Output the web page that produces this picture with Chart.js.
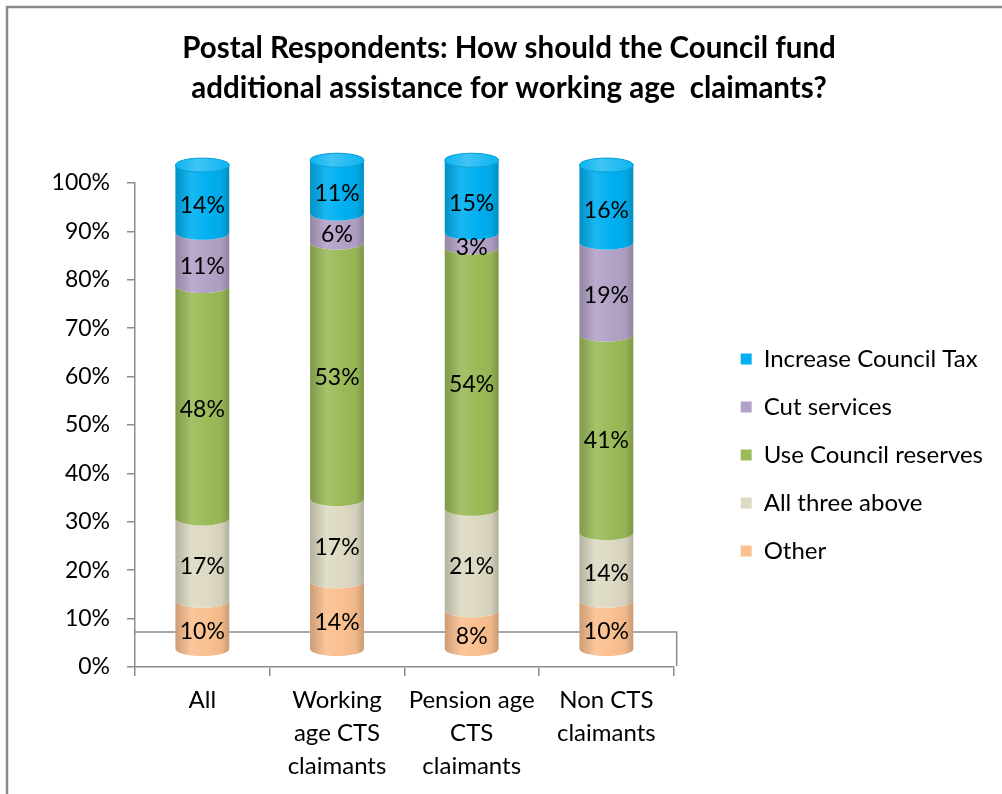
<!DOCTYPE html>
<html>
<head>
<meta charset="utf-8">
<script src="https://cdn.jsdelivr.net/npm/chart.js@4.4.1/dist/chart.umd.min.js"></script>
<style>
  html, body { margin: 0; padding: 0; background: #fff; }
  #wrap { width: 1002px; height: 794px; }
</style>
</head>
<body>
<div id="wrap"><canvas id="chart" width="1002" height="794"></canvas></div>
<script>
// ---- data ----
const categories = ['All', ['Working', 'age CTS', 'claimants'], ['Pension age', 'CTS', 'claimants'], ['Non CTS', 'claimants']];
const otherPct       = [10, 14, 8, 10];
const allThreePct    = [17, 17, 21, 14];
const reservesPct    = [48, 53, 54, 41];
const cutServicesPct = [11, 6, 3, 19];
const councilTaxPct  = [14, 11, 15, 16];
const seriesNames  = ['Other', 'All three above', 'Use Council reserves', 'Cut services', 'Increase Council Tax'];
const seriesValues = [otherPct, allThreePct, reservesPct, cutServicesPct, councilTaxPct];
const seriesColors = ['#FAC090', '#DDD9C3', '#9BBB59', '#B3A2C7', '#00B0F0'];
const titleLines = ['Postal Respondents: How should the Council fund', 'additional assistance for working age  claimants?'];

// ---- look ----
const FONT = 'Lato, "Open Sans", "DejaVu Sans", sans-serif';
const AXIS_GREY = '#8c8c8c';
const CAP_RY = 7;          // half-height of the elliptical cylinder ends
const FLOOR_DEPTH = 35;    // back edge of the 3-D floor, above the category axis
const LEGEND_SIZE = 24;
const LEGEND_PAD = 24;
const LEGEND_BOX = 11;
const LEGEND_SWATCH_X = 741;

// room for the legend so its swatches start at a fixed column
const meas = document.createElement('canvas').getContext('2d');
meas.font = LEGEND_SIZE + 'px ' + FONT;
const widestName = Math.max(...seriesNames.map(s => meas.measureText(s).width));
const legendWidth = LEGEND_PAD + LEGEND_BOX + LEGEND_SIZE / 2 + widestName + 10;
const padRight = Math.round(1002 - (LEGEND_SWATCH_X - LEGEND_PAD) - legendWidth);
const padLeft = 16 + padRight;

function shade(hex, f) {
  const n = parseInt(hex.slice(1), 16);
  const ch = [(n >> 16) & 255, (n >> 8) & 255, n & 255];
  const m = c => f >= 0 ? Math.round(c + (255 - c) * f) : Math.round(c * (1 + f));
  return 'rgb(' + ch.map(m).join(',') + ')';
}

function sideGradient(ctx, x, w, hex) {
  const g = ctx.createLinearGradient(x - w / 2, 0, x + w / 2, 0);
  g.addColorStop(0, shade(hex, -0.18));
  g.addColorStop(0.3, shade(hex, 0.1));
  g.addColorStop(0.6, hex);
  g.addColorStop(0.85, shade(hex, -0.04));
  g.addColorStop(1, shade(hex, -0.2));
  return g;
}

// white page with the frame's top and left rules
const framePlugin = {
  id: 'frame',
  beforeDraw(chart) {
    const ctx = chart.ctx;
    ctx.save();
    ctx.fillStyle = '#fff';
    ctx.fillRect(0, 0, chart.width, chart.height);
    ctx.strokeStyle = '#8a8a8a';
    ctx.lineWidth = 2.5;
    ctx.beginPath();
    ctx.moveTo(7, chart.height);
    ctx.lineTo(7, 7);
    ctx.lineTo(chart.width, 7);
    ctx.stroke();
    ctx.restore();
  }
};

// stacked bars drawn as cylinders standing on a 3-D floor
const cylinderPlugin = {
  id: 'cylinders',
  beforeDatasetsDraw(chart) {
    const { left, right, bottom } = chart.chartArea;
    const ctx = chart.ctx;
    ctx.save();
    ctx.strokeStyle = AXIS_GREY;
    ctx.lineWidth = 1.5;
    ctx.beginPath();
    ctx.moveTo(left, bottom - FLOOR_DEPTH);
    ctx.lineTo(right + 3, bottom - FLOOR_DEPTH);
    ctx.lineTo(right + 3, bottom - 1);
    ctx.stroke();
    ctx.restore();
  },
  beforeDatasetDraw() { return false; },
  afterDatasetsDraw(chart) {
    const ctx = chart.ctx;
    const sets = chart.data.datasets;
    ctx.save();
    chart.data.labels.forEach((_, i) => {
      let top = null;
      sets.forEach((ds, d) => {
        const v = ds.data[i];
        if (!v) return;
        const el = chart.getDatasetMeta(d).data[i];
        const { x, y, base, width } = el.getProps(['x', 'y', 'base', 'width'], true);
        const rx = width / 2;
        ctx.beginPath();
        ctx.moveTo(x - rx, y);
        ctx.ellipse(x, y, rx, CAP_RY, 0, Math.PI, 0, true);
        ctx.lineTo(x + rx, base);
        ctx.ellipse(x, base, rx, CAP_RY, 0, 0, Math.PI, false);
        ctx.closePath();
        ctx.fillStyle = sideGradient(ctx, x, width, ds.backgroundColor);
        ctx.fill();
        top = { x, y, width, hex: ds.backgroundColor };
      });
      if (top) {
        ctx.beginPath();
        ctx.ellipse(top.x, top.y, top.width / 2, CAP_RY, 0, 0, Math.PI * 2);
        const g = ctx.createLinearGradient(top.x - top.width / 2, 0, top.x + top.width / 2, 0);
        g.addColorStop(0, shade(top.hex, 0.05));
        g.addColorStop(0.4, shade(top.hex, 0.25));
        g.addColorStop(1, shade(top.hex, 0.05));
        ctx.fillStyle = g;
        ctx.fill();
        ctx.strokeStyle = shade(top.hex, -0.1);
        ctx.lineWidth = 1;
        ctx.stroke();
      }
    });
    // value labels
    ctx.fillStyle = '#000';
    ctx.font = '23px ' + FONT;
    ctx.textAlign = 'center';
    ctx.textBaseline = 'middle';
    sets.forEach((ds, d) => {
      chart.getDatasetMeta(d).data.forEach((el, i) => {
        const v = ds.data[i];
        if (!v) return;
        const { x, y, base } = el.getProps(['x', 'y', 'base'], true);
        ctx.fillText(v + '%', x, (y + base) / 2 + CAP_RY);
      });
    });
    ctx.restore();
  }
};

const datasets = seriesNames.map((name, k) => ({
  label: name,
  data: seriesValues[k],
  backgroundColor: seriesColors[k],
  borderWidth: 0,
  xAxisID: 'x',
  yAxisID: 'yBar',
  barPercentage: 0.4,
  categoryPercentage: 1
}));

new Chart(document.getElementById('chart'), {
  type: 'bar',
  data: { labels: categories, datasets },
  plugins: [framePlugin, cylinderPlugin],
  options: {
    responsive: false,
    animation: false,
    devicePixelRatio: 1,
    layout: { padding: { left: padLeft, right: padRight, top: 0, bottom: 0 } },
    plugins: {
      title: {
        display: true,
        text: titleLines,
        color: '#000',
        font: { family: FONT, size: 29.5, weight: 'bold', lineHeight: '40px' },
        padding: { top: 28, bottom: 0 }
      },
      legend: {
        position: 'right',
        align: 'center',
        fullSize: false,
        reverse: true,
        maxWidth: 500,
        title: { display: true, text: ' ', font: { size: 20, lineHeight: 1 }, padding: 20 },
        labels: {
          boxWidth: LEGEND_BOX,
          boxHeight: LEGEND_BOX,
          padding: LEGEND_PAD,
          color: '#000',
          font: { family: FONT, size: LEGEND_SIZE }
        }
      },
      tooltip: { enabled: false }
    },
    scales: {
      x: {
        stacked: true,
        offset: true,
        grid: { offset: true, drawOnChartArea: false, tickLength: 9, color: AXIS_GREY, lineWidth: 1.5 },
        border: { color: AXIS_GREY, width: 1.5 },
        ticks: { color: '#000', font: { family: FONT, size: 24, lineHeight: '33px' }, padding: 7.5, maxRotation: 0, autoSkip: false },
        afterFit(s) { s.height = 127; }
      },
      xTop: {
        type: 'category',
        position: 'top',
        display: true,
        grid: { display: false },
        border: { display: false },
        ticks: { display: false },
        afterFit(s) { s.height = 75; }
      },
      y: {
        position: 'left',
        min: 0,
        max: 100,
        ticks: { stepSize: 10, callback: v => v + '%', color: '#000', font: { family: FONT, size: 23 }, padding: 17 },
        grid: { drawOnChartArea: false, tickLength: 8, color: AXIS_GREY, lineWidth: 1.5 },
        border: { color: AXIS_GREY, width: 1.5 },
        afterFit(s) { s.width = 135 - padLeft; }
      },
      yBar: {
        stacked: true,
        position: 'right',
        min: -3.7,
        max: 96.3,
        display: true,
        grid: { display: false },
        border: { display: false },
        ticks: { display: false },
        afterFit(s) { s.width = 43; }
      }
    }
  }
});
</script>
</body>
</html>
